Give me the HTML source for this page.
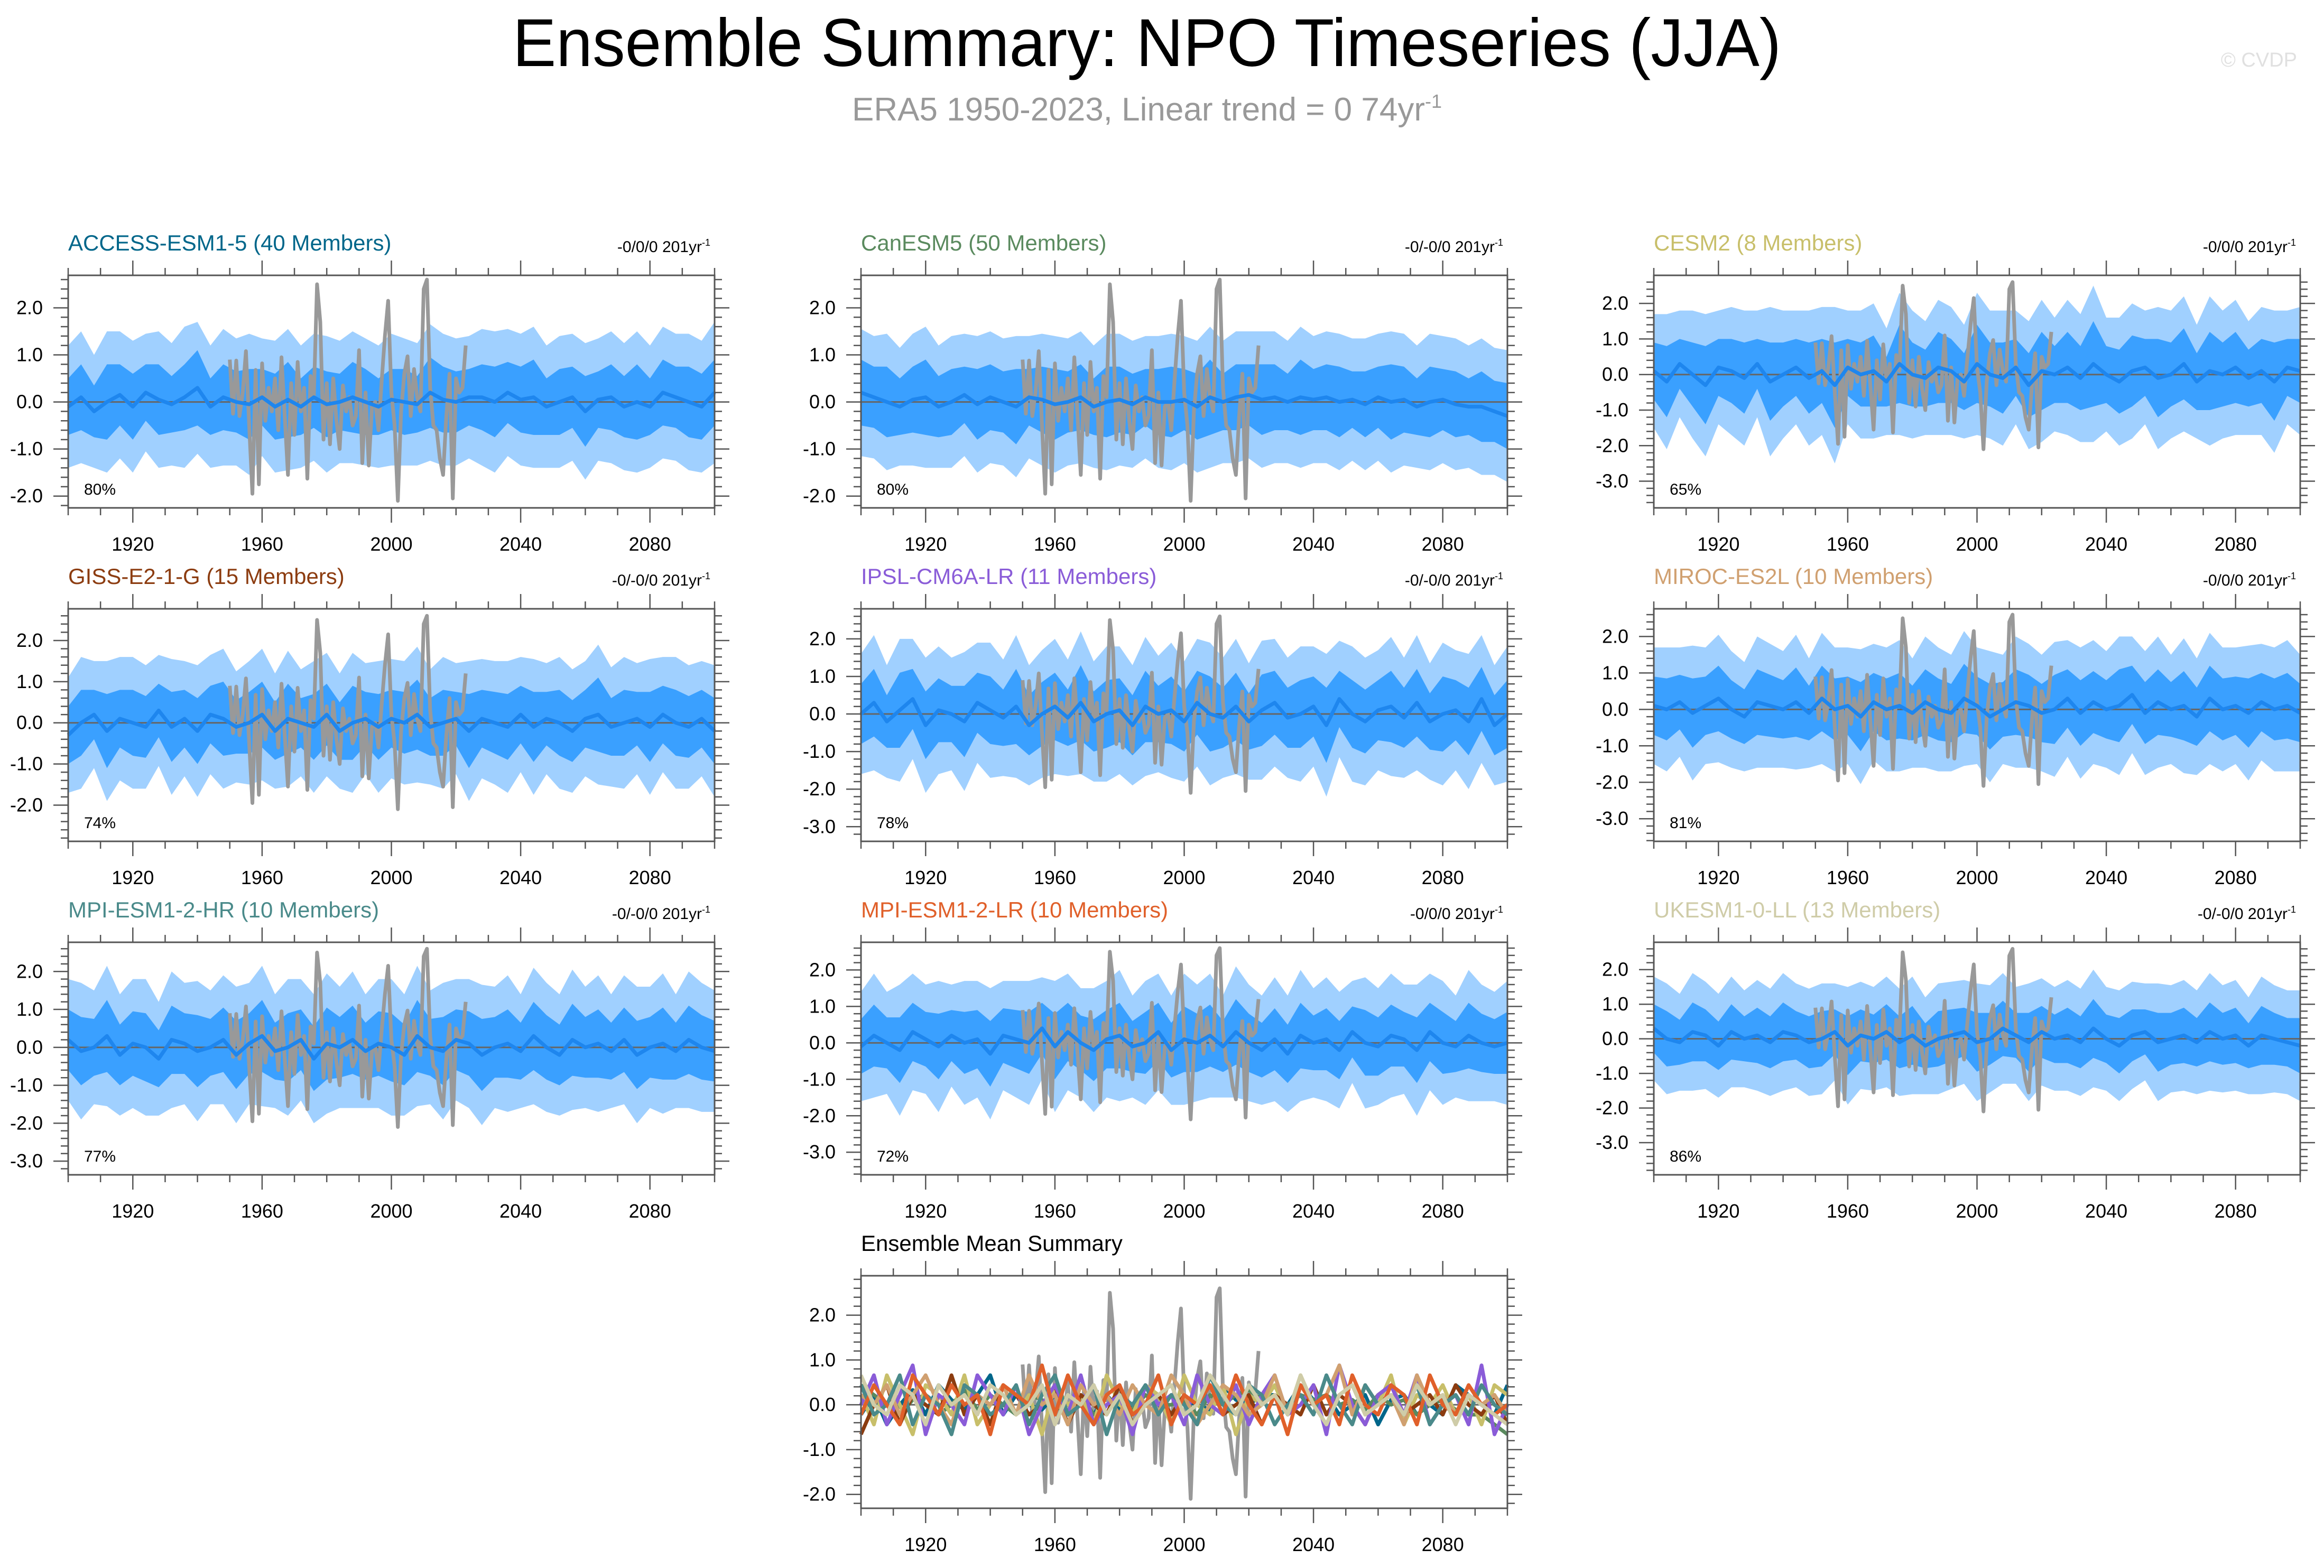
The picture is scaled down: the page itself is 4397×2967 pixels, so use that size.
<!DOCTYPE html>
<html><head><meta charset="utf-8"><style>
html,body{margin:0;padding:0;background:#fff;}
svg{display:block;font-family:"Liberation Sans",sans-serif;}
</style></head><body>
<svg id="chart" xmlns="http://www.w3.org/2000/svg" width="4397" height="2967" viewBox="0 0 4397 2967">
<rect x="0" y="0" width="4397" height="2967" fill="#fff"/>
<text x="2170" y="125" font-size="128" text-anchor="middle" fill="#000" textLength="2400" lengthAdjust="spacingAndGlyphs">Ensemble Summary: NPO Timeseries (JJA)</text>
<text x="2170" y="228" font-size="62" text-anchor="middle" fill="#999">ERA5 1950-2023, Linear trend = 0 74yr<tspan dy="-24" font-size="36">-1</tspan></text>
<text x="4346" y="126" font-size="38" text-anchor="end" fill="#e0e0e0">© CVDP</text>
</svg>
<script>
const years4 = [1900,1904,1908,1912,1916,1920,1924,1928,1932,1936,1940,1944,1948,1952,1956,1960,1964,1968,1972,1976,1980,1984,1988,1992,1996,2000,2004,2008,2012,2016,2020,2024,2028,2032,2036,2040,2044,2048,2052,2056,2060,2064,2068,2072,2076,2080,2084,2088,2092,2096,2100];
const obsYears0 = 1950;
const obsValues = [0.9,-0.25,0.88,-0.3,0.2,1.08,-0.5,-1.95,0.68,-1.75,0.82,-0.4,0.3,-0.2,0.5,-0.6,0.95,-0.3,-1.55,0.4,-0.7,0.85,-0.2,0.3,-1.63,0.55,0.1,2.5,1.7,-0.8,0.4,-0.9,0.5,-0.4,-1.0,0.35,-0.2,0.1,-0.5,-0.3,1.1,-1.3,0.2,-1.35,-0.1,0.0,-0.6,0.45,1.4,2.15,0.2,-0.5,-2.1,-0.2,0.6,0.97,-0.3,0.7,0.1,-0.2,2.4,2.6,0.3,-0.5,-0.6,-1.2,-1.55,-0.3,0.6,-2.05,0.5,0.2,0.3,1.2];
const xTickLabels = ["1920","1960","2000","2040","2080"];

const titles = ["ACCESS-ESM1-5 (40 Members)","CanESM5 (50 Members)","CESM2 (8 Members)","GISS-E2-1-G (15 Members)","IPSL-CM6A-LR (11 Members)","MIROC-ES2L (10 Members)","MPI-ESM1-2-HR (10 Members)","MPI-ESM1-2-LR (10 Members)","UKESM1-0-LL (13 Members)"];
const trendLabels = ["-0/0/0 201yr","-0/-0/0 201yr","-0/0/0 201yr","-0/-0/0 201yr","-0/-0/0 201yr","-0/0/0 201yr","-0/-0/0 201yr","-0/0/0 201yr","-0/-0/0 201yr"];
const pctLabels = ["80%","80%","65%","74%","78%","81%","77%","72%","86%"];
const yMins = [-2.25,-2.25,-3.75,-2.88,-3.39,-3.62,-3.36,-3.62,-3.93];
const yMaxs = [2.69,2.69,2.79,2.77,2.8,2.76,2.77,2.76,2.79];
const summaryYMin = -2.31, summaryYMax = 2.88;

const mean1 = [-0.1,0.1,-0.2,0.0,0.15,-0.1,0.2,0.05,-0.05,0.1,0.3,-0.1,0.1,0.0,-0.05,0.1,-0.1,0.05,-0.1,0.1,-0.05,0.0,0.1,0.0,-0.1,0.05,0.0,-0.05,0.2,0.05,0.0,0.1,0.1,0.0,0.2,0.05,0.1,-0.1,0.0,0.1,-0.2,0.05,0.1,-0.1,0.0,-0.1,0.2,0.1,0.0,-0.1,0.2];
const mean2 = [0.2,0.1,0.0,-0.1,0.05,0.1,-0.1,0.0,0.15,-0.05,0.1,0.0,-0.1,0.1,0.05,-0.05,0.0,0.1,-0.1,0.0,0.05,-0.05,0.1,0.0,0.0,0.05,-0.1,0.1,0.0,0.1,0.15,0.05,0.1,0.0,0.1,0.05,0.1,0.0,0.05,-0.05,0.1,0.0,0.05,-0.1,0.0,0.05,-0.05,-0.1,-0.1,-0.2,-0.3];
const mean3 = [0.1,-0.2,0.3,0.0,-0.3,0.2,0.1,-0.1,0.3,-0.2,0.0,0.2,-0.1,0.1,-0.3,0.2,0.0,0.1,-0.2,0.3,0.0,-0.1,0.2,0.1,-0.2,0.3,0.0,-0.1,0.2,-0.3,0.1,0.0,0.2,-0.1,0.3,0.0,-0.2,0.1,0.2,-0.1,0.0,0.3,-0.2,0.1,0.0,0.2,-0.1,0.1,-0.2,0.2,0.1];
const mean4 = [-0.3,0.0,0.2,-0.2,0.1,0.0,-0.1,0.3,-0.1,0.1,-0.2,0.2,0.1,-0.1,0.0,0.2,-0.2,0.1,0.0,-0.1,0.2,-0.2,0.0,0.1,-0.1,0.1,0.0,0.2,-0.1,0.0,0.1,-0.2,0.1,0.0,-0.1,0.2,-0.1,0.1,0.0,-0.2,0.1,0.2,-0.1,0.0,0.1,-0.1,0.2,0.0,-0.1,0.1,-0.2];
const mean5 = [0.0,0.3,-0.2,0.1,0.4,-0.3,0.1,0.0,-0.2,0.3,0.1,-0.1,0.2,-0.3,0.0,0.2,-0.1,0.3,-0.2,0.0,0.1,-0.3,0.2,0.0,0.1,-0.2,0.3,0.0,-0.1,0.2,-0.2,0.1,0.3,-0.1,0.0,0.2,-0.3,0.4,0.0,-0.2,0.1,0.2,-0.1,0.3,-0.2,0.0,0.1,-0.2,0.4,-0.3,0.0];
const mean6 = [0.1,0.0,0.2,-0.1,0.1,0.3,0.0,-0.2,0.2,0.1,0.0,0.2,-0.1,0.3,0.0,0.1,-0.2,0.2,0.0,0.1,-0.1,0.2,0.0,-0.1,0.3,0.1,-0.2,0.0,0.2,0.1,-0.1,0.0,0.3,-0.1,0.2,0.0,0.1,0.4,-0.1,0.2,0.0,0.1,-0.2,0.3,0.0,0.1,-0.1,0.2,0.0,0.1,-0.1];
const mean7 = [0.2,-0.1,0.0,0.3,-0.2,0.1,0.0,-0.3,0.2,0.1,-0.1,0.0,0.2,-0.2,0.1,0.3,-0.1,0.0,0.2,-0.3,0.1,0.0,0.2,-0.1,0.1,0.0,-0.2,0.3,0.0,-0.1,0.2,0.1,-0.2,0.0,0.1,-0.1,0.3,0.0,-0.2,0.2,0.0,0.1,-0.1,0.2,-0.2,0.0,0.1,-0.1,0.2,0.0,-0.1];
const mean8 = [-0.1,0.2,0.0,-0.2,0.3,0.1,-0.1,0.2,0.0,0.1,-0.3,0.2,0.1,0.0,0.4,-0.1,0.3,0.0,-0.2,0.1,0.2,-0.1,0.0,0.3,-0.2,0.1,0.0,0.2,-0.1,0.3,0.0,-0.2,0.1,-0.3,0.2,0.0,0.1,-0.2,0.3,0.0,-0.1,0.2,0.1,-0.2,0.3,0.0,-0.1,0.2,0.0,-0.1,0.0];
const mean9 = [0.3,0.0,-0.1,0.2,0.1,-0.2,0.2,0.0,0.1,-0.1,0.2,0.1,-0.1,0.0,0.2,-0.2,0.1,0.0,0.2,-0.1,0.1,-0.2,0.0,0.1,0.2,-0.1,0.0,0.3,0.1,-0.1,0.2,0.0,0.1,-0.1,0.3,0.0,-0.2,0.1,0.2,-0.1,0.0,0.1,-0.1,0.2,0.0,0.1,-0.2,0.1,0.0,-0.1,-0.2];

const inner1 = [0.6,0.7,0.55,0.8,0.65,0.7,0.6,0.75,0.6,0.7,0.8,0.6,0.7,0.65,0.75,0.6,0.7,0.8,0.6,0.65,0.7,0.6,0.75,0.7,0.6,0.65,0.7,0.6,0.75,0.7,0.65,0.6,0.7,0.75,0.65,0.7,0.8,0.6,0.7,0.65,0.75,0.6,0.7,0.65,0.8,0.6,0.7,0.65,0.75,0.7,0.7];
const inner2 = [0.7,0.65,0.75,0.6,0.7,0.8,0.65,0.7,0.6,0.75,0.7,0.65,0.8,0.6,0.7,0.75,0.65,0.7,0.6,0.75,0.7,0.65,0.6,0.7,0.75,0.65,0.7,0.8,0.6,0.7,0.65,0.75,0.7,0.6,0.8,0.65,0.7,0.75,0.6,0.7,0.65,0.8,0.7,0.6,0.75,0.65,0.7,0.6,0.75,0.65,0.7];
const inner3 = [0.8,1.0,0.7,0.9,1.1,0.8,0.9,1.0,0.7,1.1,0.9,0.8,1.0,0.9,1.2,0.8,0.9,1.0,0.7,1.1,0.9,0.8,1.0,0.9,0.8,1.1,0.9,1.0,0.8,0.9,1.1,0.8,1.0,0.9,1.2,0.8,0.9,1.0,0.8,1.1,0.9,1.0,0.8,1.1,0.9,1.0,0.8,0.9,1.1,0.8,0.9];
const inner4 = [0.7,0.8,0.6,0.9,0.7,0.8,0.75,0.65,0.85,0.7,0.8,0.7,0.9,0.65,0.75,0.8,0.7,0.85,0.6,0.8,0.75,0.7,0.9,0.65,0.8,0.7,0.75,0.85,0.7,0.8,0.65,0.9,0.7,0.75,0.8,0.7,0.85,0.65,0.8,0.75,0.7,0.9,0.7,0.8,0.65,0.85,0.7,0.8,0.75,0.7,0.8];
const inner5 = [0.8,0.9,0.7,1.0,0.8,0.9,0.85,0.75,0.95,0.8,0.9,0.75,1.0,0.8,0.85,0.9,0.75,1.0,0.8,0.9,0.85,0.8,0.95,0.75,0.9,0.8,0.85,1.0,0.8,0.9,0.75,0.95,0.85,0.8,0.9,0.8,1.0,0.75,0.9,0.85,0.8,0.95,0.8,0.9,0.75,1.0,0.8,0.9,0.85,0.8,0.9];
const inner6 = [0.8,0.85,0.75,0.95,0.8,0.9,0.8,0.75,0.9,0.85,0.8,0.95,0.75,0.9,0.85,0.8,0.95,0.8,0.85,0.9,0.75,0.9,0.85,0.8,0.95,0.8,0.9,0.75,0.9,0.85,0.8,0.95,0.8,0.9,0.85,0.8,1.0,0.8,0.85,0.9,0.75,0.95,0.8,0.9,0.85,0.8,0.95,0.8,0.85,0.9,0.8];
const inner7 = [0.8,0.9,0.75,0.95,0.8,0.85,0.9,0.75,0.9,0.8,0.95,0.75,0.85,0.9,0.8,0.95,0.75,0.9,0.8,0.85,0.95,0.8,0.9,0.75,0.85,0.9,0.8,0.95,0.75,0.9,0.8,0.85,0.95,0.8,0.9,0.75,0.9,0.85,0.8,0.95,0.8,0.9,0.75,0.85,0.9,0.8,0.95,0.75,0.9,0.85,0.8];
const inner8 = [0.75,0.85,0.7,0.9,0.8,0.75,0.9,0.7,0.85,0.8,0.9,0.75,0.8,0.85,0.7,0.9,0.8,0.75,0.85,0.8,0.9,0.7,0.85,0.8,0.75,0.9,0.8,0.85,0.7,0.9,0.8,0.75,0.85,0.8,0.9,0.75,0.85,0.8,0.7,0.9,0.8,0.85,0.75,0.9,0.8,0.85,0.7,0.9,0.8,0.75,0.85];
const inner9 = [0.7,0.8,0.65,0.85,0.75,0.7,0.8,0.65,0.8,0.75,0.85,0.7,0.75,0.8,0.65,0.85,0.75,0.7,0.8,0.75,0.85,0.65,0.8,0.75,0.7,0.85,0.75,0.8,0.65,0.85,0.75,0.7,0.8,0.75,0.85,0.7,0.8,0.75,0.65,0.85,0.75,0.8,0.7,0.85,0.75,0.8,0.65,0.85,0.75,0.7,0.8];

const outer1 = [1.3,1.4,1.2,1.5,1.35,1.4,1.25,1.45,1.3,1.5,1.4,1.3,1.45,1.35,1.5,1.25,1.4,1.5,1.3,1.35,1.45,1.3,1.4,1.35,1.3,1.4,1.35,1.3,1.45,1.4,1.35,1.3,1.45,1.5,1.35,1.4,1.5,1.3,1.4,1.35,1.45,1.3,1.4,1.35,1.5,1.3,1.4,1.35,1.45,1.4,1.5];
const outer2 = [1.35,1.3,1.45,1.25,1.4,1.5,1.3,1.4,1.3,1.45,1.4,1.35,1.5,1.3,1.4,1.45,1.35,1.4,1.3,1.45,1.4,1.35,1.3,1.4,1.45,1.35,1.4,1.5,1.3,1.4,1.35,1.45,1.4,1.3,1.5,1.35,1.4,1.45,1.3,1.4,1.35,1.5,1.4,1.3,1.45,1.35,1.4,1.3,1.45,1.35,1.4];
const outer3 = [1.6,1.9,1.5,1.8,2.0,1.6,1.8,1.9,1.5,2.1,1.8,1.6,1.9,1.8,2.2,1.6,1.8,1.9,1.5,2.0,1.8,1.6,1.9,1.8,1.6,2.0,1.8,1.9,1.6,1.8,2.0,1.6,1.9,1.8,2.2,1.6,1.8,1.9,1.6,2.0,1.8,1.9,1.6,2.1,1.8,1.9,1.6,1.8,2.0,1.6,1.8];
const outer4 = [1.4,1.6,1.3,1.7,1.5,1.6,1.5,1.35,1.65,1.4,1.6,1.45,1.7,1.35,1.5,1.6,1.4,1.65,1.3,1.6,1.5,1.4,1.7,1.35,1.6,1.45,1.5,1.65,1.4,1.6,1.35,1.7,1.45,1.5,1.6,1.4,1.65,1.35,1.6,1.5,1.4,1.7,1.45,1.6,1.35,1.65,1.4,1.6,1.5,1.4,1.6];
const outer5 = [1.6,1.8,1.5,1.9,1.6,1.8,1.7,1.5,1.85,1.6,1.8,1.55,1.9,1.6,1.7,1.8,1.55,1.9,1.6,1.8,1.7,1.6,1.85,1.55,1.8,1.6,1.7,1.9,1.6,1.8,1.55,1.85,1.7,1.6,1.8,1.6,1.9,1.55,1.8,1.7,1.6,1.85,1.6,1.8,1.55,1.9,1.6,1.8,1.7,1.6,1.8];
const outer6 = [1.6,1.7,1.5,1.85,1.6,1.75,1.6,1.5,1.8,1.7,1.6,1.85,1.5,1.8,1.7,1.6,1.85,1.6,1.7,1.8,1.5,1.8,1.7,1.6,1.85,1.6,1.8,1.5,1.8,1.7,1.6,1.85,1.6,1.8,1.7,1.6,1.9,1.6,1.7,1.8,1.5,1.85,1.6,1.8,1.7,1.6,1.85,1.6,1.7,1.8,1.6];
const outer7 = [1.6,1.8,1.5,1.85,1.6,1.7,1.8,1.5,1.8,1.6,1.85,1.5,1.7,1.8,1.6,1.85,1.5,1.8,1.6,1.7,1.85,1.6,1.8,1.5,1.7,1.8,1.6,1.85,1.5,1.8,1.6,1.7,1.85,1.6,1.8,1.5,1.8,1.7,1.6,1.85,1.6,1.8,1.5,1.7,1.8,1.6,1.85,1.5,1.8,1.7,1.6];
const outer8 = [1.5,1.7,1.4,1.8,1.6,1.5,1.8,1.4,1.7,1.6,1.8,1.5,1.6,1.7,1.4,1.8,1.6,1.5,1.7,1.6,1.8,1.4,1.7,1.6,1.5,1.8,1.6,1.7,1.4,1.8,1.6,1.5,1.7,1.6,1.8,1.5,1.7,1.6,1.4,1.8,1.6,1.7,1.5,1.8,1.6,1.7,1.4,1.8,1.6,1.5,1.7];
const outer9 = [1.5,1.6,1.4,1.7,1.55,1.5,1.6,1.4,1.6,1.55,1.7,1.5,1.55,1.6,1.4,1.7,1.55,1.5,1.6,1.55,1.7,1.4,1.6,1.55,1.5,1.7,1.55,1.6,1.4,1.7,1.55,1.5,1.6,1.55,1.7,1.5,1.6,1.55,1.4,1.7,1.55,1.6,1.5,1.7,1.55,1.6,1.4,1.7,1.55,1.5,1.6];

const means = [mean1,mean2,mean3,mean4,mean5,mean6,mean7,mean8,mean9];
const inners = [inner1,inner2,inner3,inner4,inner5,inner6,inner7,inner8,inner9];
const outers = [outer1,outer2,outer3,outer4,outer5,outer6,outer7,outer8,outer9];
const modelColors = ["#00668a","#5a8a5e","#c8bf6a","#8c3c10","#8a5cd8","#d0a070","#4a8a8a","#e0602a","#cfcca8"];

const NS = "http://www.w3.org/2000/svg";
const svg = document.getElementById("chart");
function mk(tag, attrs, parent){ const e=document.createElementNS(NS,tag); for(const k in attrs) e.setAttribute(k,attrs[k]); (parent||svg).appendChild(e); return e; }

const colX = [129,1629,3129], rowY = [521,1152,1783], PW = 1223, PH = 440;

function drawAxes(g, x0, y0, ymin, ymax, sx, sy){
  mk("rect",{x:x0,y:y0,width:PW,height:PH,fill:"none",stroke:"#555","stroke-width":3},g);
  for(let yr=1900; yr<=2100; yr+=10){
    const major = (yr-1920)%40===0;
    const L = major?28:14, x = sx(yr);
    const t1 = mk("line",{x1:x,x2:x,y1:y0,y2:y0-L,stroke:"#555","stroke-width":2.5},g);
    
    
    const t2 = mk("line",{x1:x,x2:x,y1:y0+PH,y2:y0+PH+L,stroke:"#555","stroke-width":2.5},g);
    
    
  }
  xTickLabels.forEach(lbl=>{
    const t = mk("text",{x:sx(+lbl),y:y0+PH+81,"font-size":36,"text-anchor":"middle",fill:"#000"},g);
    t.textContent = lbl;
    
    
  });
  for(let i=Math.ceil(ymin*5); i<=Math.floor(ymax*5); i++){
    const v=i/5, y=sy(v), major = i%5===0, L = major?28:14;
    const a = mk("line",{x1:x0,x2:x0-L,y1:y,y2:y,stroke:"#555","stroke-width":2.5},g);
    
    
    const b = mk("line",{x1:x0+PW,x2:x0+PW+L,y1:y,y2:y,stroke:"#555","stroke-width":2.5},g);
    
    
    if(major){
      const t = mk("text",{x:x0-48,y:y+12,"font-size":36,"text-anchor":"end",fill:"#000"},g);
      t.textContent = (v/1).toFixed(1);
      
      
    }
  }
}
function drawObs(g, sx, sy){
  const pts = obsValues.map((v,i)=>sx(obsYears0+i)+","+sy(v)).join(" ");
  const p = mk("polyline",{points:pts,fill:"none",stroke:"#999","stroke-width":7,"stroke-linejoin":"round"},g);
  
  
}
function zeroLine(g, x0, sy){
  const z = mk("line",{x1:x0,x2:x0+PW,y1:sy(0),y2:sy(0),stroke:"#666","stroke-width":3},g);
  
  
}

for(let k=0;k<9;k++){
  const x0 = colX[k%3], y0 = rowY[Math.floor(k/3)];
  const ymin = yMins[k], ymax = yMaxs[k];
  const sx = yr => x0 + (yr-1900)/200*PW;
  const sy = v => y0 + (ymax - v)/(ymax-ymin)*PH;
  const g = mk("g",{});
  
  
  const m = means[k], inn = inners[k], out = outers[k];
  const band = (w)=>{
    const up = years4.map((yr,i)=>sx(yr)+","+sy(m[i]+w[i]));
    const lo = years4.map((yr,i)=>sx(yr)+","+sy(m[i]-w[i])).reverse();
    return up.concat(lo).join(" ");
  };
  const ob = mk("polygon",{points:band(out),fill:"#a0d0ff"},g);
  
  
  const ib = mk("polygon",{points:band(inn),fill:"#3aa0ff"},g);
  
  
  zeroLine(g, x0, sy);
  drawObs(g, sx, sy);
  const ml = mk("polyline",{points:years4.map((yr,i)=>sx(yr)+","+sy(m[i])).join(" "),fill:"none",stroke:"#1e86ee","stroke-width":7,"stroke-linejoin":"round"},g);
  
  
  drawAxes(g, x0, y0, ymin, ymax, sx, sy);
  const tt = mk("text",{x:x0,y:y0-47,"font-size":42,fill:modelColors[k]},g);
  tt.textContent = titles[k];
  
  
  const tr = mk("text",{x:x0+PW-8,y:y0-44,"font-size":30,"text-anchor":"end",fill:"#000"},g);
  tr.textContent = trendLabels[k];
  const sup = mk("tspan",{dy:-12,"font-size":18},tr);
  sup.textContent = "-1";
  
  
  const pc = mk("text",{x:x0+30,y:y0+PH-25,"font-size":30,fill:"#000"},g);
  pc.textContent = pctLabels[k];
  
  
}

// Ensemble mean summary panel
(function(){
  const x0 = 1629, y0 = 2414, ymin = summaryYMin, ymax = summaryYMax;
  const sx = yr => x0 + (yr-1900)/200*PW;
  const sy = v => y0 + (ymax - v)/(ymax-ymin)*PH;
  const g = mk("g",{});
  
  
  zeroLine(g, x0, sy);
  drawObs(g, sx, sy);
  means.forEach((m,k)=>{
    const pts = years4.map((yr,i)=>sx(yr)+","+sy(m[i]*2.2)).join(" ");
    const l = mk("polyline",{points:pts,fill:"none",stroke:modelColors[k],"stroke-width":7,"stroke-linejoin":"round"},g);
    
    
  });
  drawAxes(g, x0, y0, ymin, ymax, sx, sy);
  const tt = mk("text",{x:x0,y:y0-47,"font-size":42,fill:"#000"},g);
  tt.textContent = "Ensemble Mean Summary";
  
  
})();
</script>
</body></html>
